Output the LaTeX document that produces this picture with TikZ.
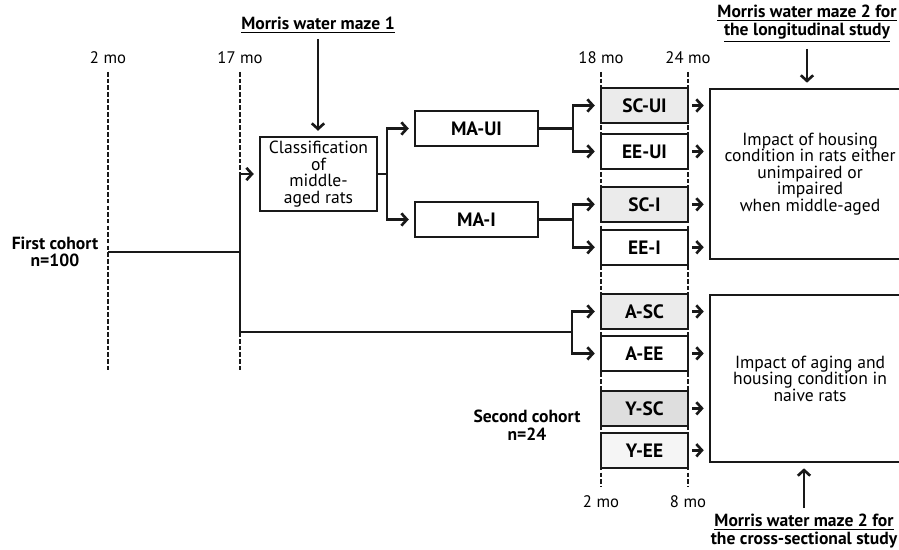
\documentclass[tikz,border=0pt]{standalone}
\usepackage{fontspec}
\setmainfont{PT Sans}
\usetikzlibrary{
    arrows.meta,
    positioning
}
\tikzstyle{group} = [
    rectangle,
    draw=black!90,
    fill=white,
    line width=1.1pt,
    minimum width=1.74cm,
    minimum height=0.7cm,
    inner sep=0pt,
    font=\bfseries\fontsize{11}{12}\selectfont
]
\tikzstyle{stage} = [
    group,
    minimum width=2.46cm
]
\tikzstyle{outcome} = [
    rectangle,
    draw=black!90,
    line width=1.2pt,
    minimum width=4cm,
    align=center,
    font=\fontsize{10}{9.4}\selectfont
]
\tikzstyle{trunk} = [
    line width=1.5pt,
    draw=black!90
]
\tikzstyle{link} = [
    trunk,
    -{Straight Barb[length=3.2pt,width=7pt]},
    shorten >=3pt
]
\tikzstyle{timeline} = [
    dash pattern=on 2.6pt off 1.2pt,
    line width=0.7pt,
    draw=black!90
]
\tikzstyle{age} = [font=\fontsize{9.5}{10}\selectfont]
\tikzstyle{test} = [align=center, font=\bfseries\fontsize{10}{10}\selectfont]
\tikzstyle{cohort} = [align=center, font=\bfseries\fontsize{10}{10}\selectfont]

\begin{document}
\begin{tikzpicture}[x=0.02cm, y=-0.02cm]
        \useasboundingbox (0,0) rectangle (899,550);
        \clip (0,0) rectangle (899,550);

        % Time points
        \node[age] (t2) at (108,58) {2 mo};
        \node[age] (t17) at (240,58) {17 mo};
        \node[age] (t18) at (601,58) {18 mo};
        \node[age] (t24) at (688,58) {24 mo};
        \node[age] (b2) at (601,502) {2 mo};
        \node[age] (b8) at (688,502) {8 mo};
        \draw[timeline] (108,72) -- (108,370);
        \draw[timeline] (240,72) -- (240,370);
        \draw[timeline] (601,72) -- (601,487);
        \draw[timeline] (688,72) -- (688,487);

        % Cohorts
        \node[cohort] (first) at (55,252) {First cohort\\n=100};
        \node[cohort] (second) at (527,425) {Second cohort\\n=24};

        % Classification
        \node[rectangle, draw=black!90, fill=white, line width=1.1pt, minimum width=2.34cm,
            minimum height=1.48cm, inner sep=1pt, align=center,
            font=\fontsize{10}{9.4}\selectfont] (class) at (318.5,174)
            {Classification\\of\\middle-\\aged rats};
        \node[stage] (maui) at (476.5,128.5) {MA-UI};
        \node[stage] (mai) at (476.5,219.5) {MA-I};

        % Housing groups
        \node[group, fill=black!8] (scui) at (644.5,105.5) {SC-UI};
        \node[group, below=0.18cm of scui] (eeui) {EE-UI};
        \node[group, fill=black!8, below=0.32cm of eeui] (sci) {SC-I};
        \node[group, below=0.12cm of sci] (eei) {EE-I};
        \node[group, fill=black!8] (asc) at (644.5,311.5) {A-SC};
        \node[group, below=0.1cm of asc] (aee) {A-EE};
        \node[group, fill=black!13, below=0.36cm of aee] (ysc) {Y-SC};
        \node[group, fill=black!4, below=0.1cm of ysc] (yee) {Y-EE};

        % Outcomes
        \node[outcome, minimum height=3.4cm, anchor=west] (long) at (709,174)
            {Impact of housing\\condition in rats either\\unimpaired or\\impaired\\when middle-aged};
        \node[outcome, minimum height=3.34cm, anchor=west] (cross) at (709,378.5)
            {Impact of aging and\\housing condition in\\naive rats};

        % Water maze tests
        \node[test] (mwm1) at (318,25) {\underline{Morris water maze 1}};
        \node[test] (mwm2) at (807,24) {\underline{Morris water maze 2 for}\\\underline{the longitudinal study}};
        \node[test] (mwm3) at (804,533) {\underline{Morris water maze 2 for}\\\underline{the cross-sectional study}};
        \draw[link] (mwm1) -- (mwm1 |- class.north);
        \draw[link] (mwm2) -- (mwm2 |- long.north);
        \draw[link] (mwm3) -- (mwm3 |- cross.south);

        % Flow
        \coordinate (start) at (108,252);
        \coordinate (fork) at (240,252);
        \coordinate (aging) at (572,332);
        \coordinate[right=0.18cm of class] (cfork);
        \coordinate[right=0.68cm of maui] (uifork);
        \coordinate[right=0.68cm of mai] (ifork);
        \draw[trunk] (start) -- (fork);
        \draw[link] (fork) |- (class.west);
        \draw[trunk] (fork) |- (aging);
        \draw[link] (aging) |- (asc.west);
        \draw[link] (aging) |- (aee.west);
        \draw[trunk] (class.east) -- (cfork);
        \draw[link] (cfork) |- (maui.west);
        \draw[link] (cfork) |- (mai.west);
        \draw[trunk] (maui.east) -- (uifork);
        \draw[link] (uifork) |- (scui.west);
        \draw[link] (uifork) |- (eeui.west);
        \draw[trunk] (mai.east) -- (ifork);
        \draw[link] (ifork) |- (sci.west);
        \draw[link] (ifork) |- (eei.west);

        % Into outcomes
        \foreach \g in {scui, eeui, sci, eei}
            \draw[link, shorten <=2pt] (\g.east) -- (\g.east -| long.west);
        \foreach \g in {asc, aee, ysc, yee}
            \draw[link, shorten <=2pt] (\g.east) -- (\g.east -| cross.west);
    \end{tikzpicture}
\end{document}
